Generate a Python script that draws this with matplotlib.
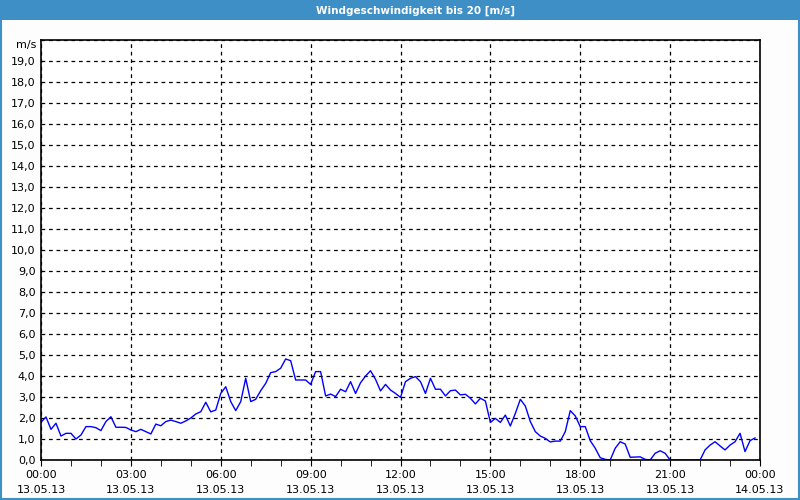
import matplotlib
matplotlib.use("Agg")
import matplotlib.pyplot as plt
import matplotlib.dates as mdates
from matplotlib.patches import Rectangle
from matplotlib.ticker import MultipleLocator, FuncFormatter
import pandas as pd

# wind speed, 10-minute values for 13.05.13
speed = [
    1.8, 2.05, 1.46, 1.75, 1.14, 1.27, 1.27, 1.0, 1.19, 1.59,
    1.59, 1.54, 1.40, 1.83, 2.06, 1.56, 1.56, 1.55, 1.43, 1.35,
    1.46, 1.35, 1.24, 1.71, 1.63, 1.83, 1.90, 1.83, 1.75, 1.86,
    2.0, 2.19, 2.3, 2.75, 2.29, 2.38, 3.17, 3.49, 2.78, 2.35,
    2.78, 3.89, 2.78, 2.89, 3.3, 3.65, 4.16, 4.21, 4.37, 4.81,
    4.73, 3.81, 3.81, 3.81, 3.6, 4.21, 4.21, 3.05, 3.14, 3.02,
    3.37, 3.25, 3.73, 3.17, 3.68, 4.0, 4.25, 3.84, 3.29, 3.6,
    3.33, 3.17, 2.98, 3.73, 3.89, 3.97, 3.73, 3.17, 3.89, 3.37,
    3.37, 3.05, 3.3, 3.33, 3.1, 3.13, 2.94, 2.67, 2.94, 2.81,
    1.79, 1.98, 1.79, 2.14, 1.62, 2.22, 2.89, 2.57, 1.83, 1.35,
    1.14, 1.03, 0.86, 0.9, 0.9, 1.35, 2.35, 2.1, 1.59, 1.59,
    0.92, 0.56, 0.11, 0.03, 0.0, 0.56, 0.87, 0.76, 0.13, 0.14,
    0.15, 0.03, 0.0, 0.32, 0.44, 0.32, 0.0, 0.0, 0.0, 0.0,
    0.0, 0.0, 0.0, 0.48, 0.71, 0.87, 0.67, 0.48, 0.71, 0.87,
    1.27, 0.4, 0.92, 1.05,
]
times = pd.date_range("2013-05-13 00:00", periods=len(speed), freq="10min")

title = "Windgeschwindigkeit bis 20 [m/s]"
unit = "m/s"
blue = "#3d8fc5"

plt.rcParams["font.family"] = ["DejaVu Sans"]
plt.rcParams["font.size"] = 8

fig = plt.figure(figsize=(8, 5), dpi=100)
fig.patch.set_facecolor("#fcfdfc")

# title bar + outer border
fig.patches.append(Rectangle((0, 0.96), 1, 0.04, transform=fig.transFigure,
                             facecolor=blue, edgecolor="none", zorder=0))
fig.patches.append(Rectangle((0.001, 0.002), 0.9975, 0.996, transform=fig.transFigure,
                             facecolor="none", edgecolor=blue, linewidth=1.5, zorder=1))
fig.text(0.519, 0.979, title, color="white", fontweight="bold",
         ha="center", va="center", fontsize=7.5)

ax = fig.add_axes([0.05125, 0.08, 0.89875, 0.84])
ax.set_facecolor("white")
ax.plot(times, speed, color="#0000ff", linewidth=1.0, zorder=2)

ax.set_xlim(pd.Timestamp("2013-05-13 00:00"), pd.Timestamp("2013-05-14 00:00"))
ax.set_ylim(0, 20)

ax.xaxis.set_major_locator(mdates.HourLocator(interval=3))
ax.xaxis.set_minor_locator(mdates.HourLocator(interval=1))
ax.xaxis.set_major_formatter(mdates.DateFormatter("%H:%M\n%d.%m.%y"))
ax.yaxis.set_major_locator(MultipleLocator(1))
ax.yaxis.set_major_formatter(FuncFormatter(
    lambda v, p: "" if v >= 20 else f"{v:.1f}".replace(".", ",")))

ax.grid(True, which="major", color="black", linestyle=(0, (3, 3)), linewidth=0.9)
ax.tick_params(axis="x", which="major", length=4, pad=3, labelsize=8)
ax.tick_params(axis="x", which="minor", length=4)
ax.tick_params(axis="y", length=0, pad=4, labelsize=8)
for lbl in ax.get_xticklabels():
    lbl.set_linespacing(1.6)
for sp in ax.spines.values():
    sp.set_color("black")
    sp.set_linewidth(1.2)
    sp.set_zorder(3)

ax.text(-0.006, 1.0, unit, transform=ax.transAxes, ha="right", va="top", fontsize=8)

fig.savefig("out.png", dpi=100, facecolor=fig.get_facecolor())
